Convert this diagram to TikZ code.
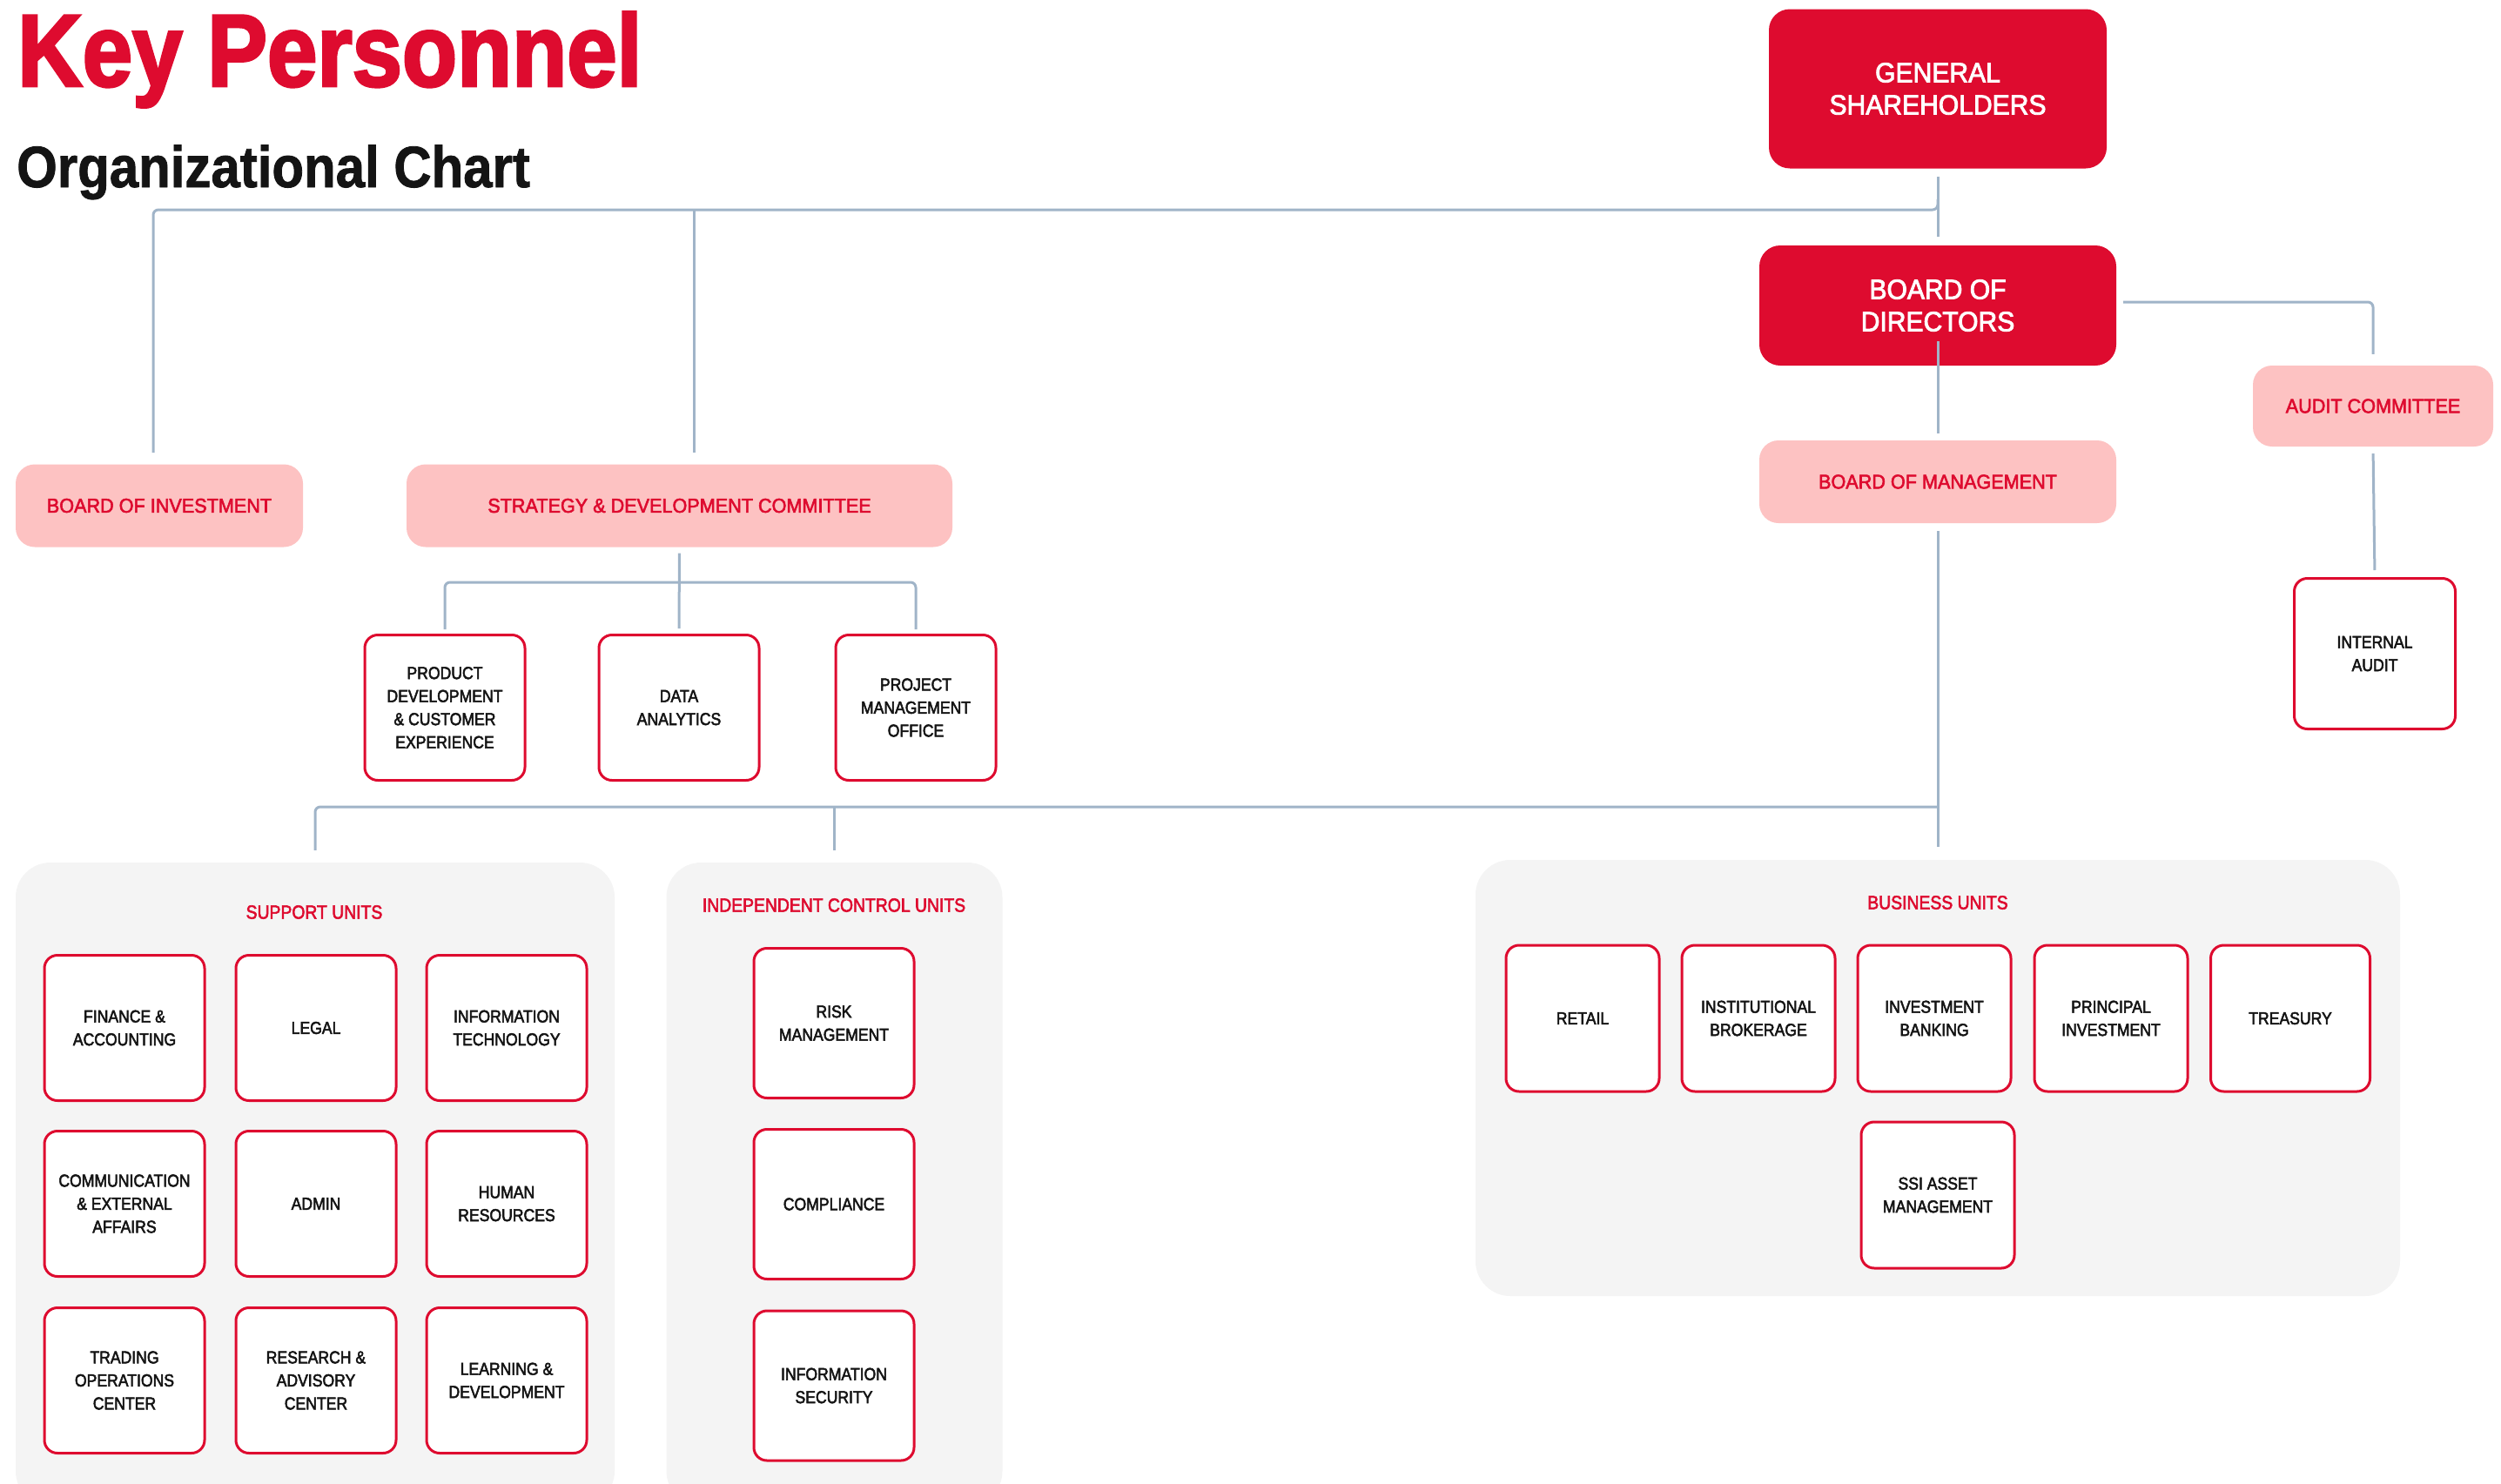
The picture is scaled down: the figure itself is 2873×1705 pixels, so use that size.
\documentclass[tikz,border=0pt]{standalone}
\usepackage{fontspec}
\setmainfont{Liberation Sans}
\newfontfamily\titlefont{Liberation Sans}[FakeStretch=0.875, FakeBold=2.5]
\newfontfamily\subtitlefont{Liberation Sans}[FakeStretch=0.895, FakeBold=1.2]
\newfontfamily\headfont{Liberation Sans}[FakeStretch=0.94, FakeBold=2.6]
\newfontfamily\unitfont{Liberation Sans}[FakeStretch=0.88, FakeBold=2.6]
\usetikzlibrary{calc}

\definecolor{brandred}{RGB}{222,11,47}
\definecolor{pinkfill}{RGB}{253,194,194}
\definecolor{linegray}{RGB}{160,180,200}
\definecolor{panelgray}{RGB}{244,244,244}
\definecolor{inktext}{RGB}{20,20,20}

\begin{document}
\begin{tikzpicture}[x=1pt, y=-1pt,
  redbox/.style={rectangle, rounded corners=24pt, fill=brandred, text=white,
    align=center, inner sep=0pt, font=\headfont\fontsize{32}{37}\selectfont},
  pinkbox/.style={rectangle, rounded corners=22pt, fill=pinkfill, text=brandred,
    align=center, inner sep=0pt, font=\headfont\fontsize{23}{28}\selectfont},
  unitbox/.style={rectangle, rounded corners=15pt, draw=brandred, line width=3pt,
    fill=white, text=inktext, align=center, inner sep=0pt,
    minimum width=184pt, minimum height=167pt,
    font=\unitfont\fontsize{20}{26.5}\selectfont},
  bizbox/.style={unitbox, minimum width=176pt, minimum height=168pt},
  panel/.style={rectangle, rounded corners=40pt, fill=panelgray, inner sep=0pt},
  grouptitle/.style={text=brandred, inner sep=0pt,
    font=\unitfont\fontsize{22}{26}\selectfont},
  conn/.style={draw=linegray, line width=3pt, rounded corners=6pt}
]
\useasboundingbox (0,0) rectangle (2873,1705);
\clip (0,0) rectangle (2873,1705);
\fill[white] (0,0) rectangle (2873,1705);

% Headings
\node[anchor=base west, inner sep=0pt, text=brandred,
  font=\titlefont\bfseries\fontsize{118}{120}\selectfont] (kp) at (20,99) {Key Personnel};
\node[anchor=base west, inner sep=0pt, text=inktext,
  font=\subtitlefont\bfseries\fontsize{67}{70}\selectfont] (oc) at (19,215) {Organizational Chart};

% Group panels
\node[panel, minimum width=688pt, minimum height=739pt] (sup) at (362,1360.5) {};
\node[panel, minimum width=386pt, minimum height=739pt] (icu) at (958.5,1360.5) {};
\node[panel, minimum width=1062pt, minimum height=501pt] (bup) at (2226,1238.5) {};

\node[grouptitle] (suptitle) at (361,1048) {SUPPORT UNITS};
\node[grouptitle] (icutitle) at (958,1040) {INDEPENDENT CONTROL UNITS};
\node[grouptitle] (buptitle) at (2226,1037) {BUSINESS UNITS};

% Governance bodies
\node[redbox, minimum width=388pt, minimum height=183pt] (gs) at (2226,102) {GENERAL\\SHAREHOLDERS};
\node[redbox, minimum width=410pt, minimum height=138pt] (bod) at (2226,351) {BOARD OF\\DIRECTORS};
\node[pinkbox, minimum width=410pt, minimum height=95pt] (bom) at (2226,553.5) {BOARD OF MANAGEMENT};
\node[pinkbox, minimum width=276pt, minimum height=93pt] (audit) at (2726,466.5) {AUDIT COMMITTEE};
\node[pinkbox, minimum width=330pt, minimum height=95pt] (boi) at (183,581) {BOARD OF INVESTMENT};
\node[pinkbox, minimum width=627pt, minimum height=95pt] (sdc) at (780.5,581) {STRATEGY \& DEVELOPMENT COMMITTEE};

\node[unitbox, minimum width=185pt, minimum height=173pt] (ia) at (2728,751) {INTERNAL\\AUDIT};

% Strategy & development units
\node[unitbox] (pd)  at (511,813)  {PRODUCT\\DEVELOPMENT\\\& CUSTOMER\\EXPERIENCE};
\node[unitbox] (da)  at (780,813)  {DATA\\ANALYTICS};
\node[unitbox] (pmo) at (1052,813) {PROJECT\\MANAGEMENT\\OFFICE};

% Support units
\node[unitbox] (fin)  at (143,1181) {FINANCE \&\\ACCOUNTING};
\node[unitbox] (leg)  at (363,1181) {LEGAL};
\node[unitbox] (it)   at (582,1181) {INFORMATION\\TECHNOLOGY};
\node[unitbox] (com)  at (143,1383) {COMMUNICATION\\\& EXTERNAL\\AFFAIRS};
\node[unitbox] (adm)  at (363,1383) {ADMIN};
\node[unitbox] (hr)   at (582,1383) {HUMAN\\RESOURCES};
\node[unitbox] (toc)  at (143,1586) {TRADING\\OPERATIONS\\CENTER};
\node[unitbox] (rac)  at (363,1586) {RESEARCH \&\\ADVISORY\\CENTER};
\node[unitbox] (ld)   at (582,1586) {LEARNING \&\\DEVELOPMENT};

% Independent control units
\node[unitbox, minimum height=172pt] (risk) at (958,1175.5) {RISK\\MANAGEMENT};
\node[unitbox, minimum height=172pt] (cmp)  at (958,1383.5) {COMPLIANCE};
\node[unitbox, minimum height=172pt] (isec) at (958,1592)   {INFORMATION\\SECURITY};

% Business units
\node[bizbox] (ret) at (1818,1170) {RETAIL};
\node[bizbox] (ib)  at (2020,1170) {INSTITUTIONAL\\BROKERAGE};
\node[bizbox] (inv) at (2222,1170) {INVESTMENT\\BANKING};
\node[bizbox] (pi)  at (2425,1170) {PRINCIPAL\\INVESTMENT};
\node[bizbox, minimum width=183pt] (tre) at (2631,1170) {TREASURY};
\node[bizbox] (ssi) at (2226,1373) {SSI ASSET\\MANAGEMENT};

% Junction points of the connector tree
\coordinate (jtop) at (2226,241);
\coordinate (boiin) at (176,520);
\coordinate (sdin) at (797,520);
\coordinate (jbot) at (2226,927);
\coordinate (jsd) at (780,669);

% Connectors
\draw[conn, shorten <=9pt, shorten >=10pt] (gs.south) -- (bod.north);
\draw[conn] (boiin) |- (jtop) -- ++(0,-12);
\draw[conn] (sdin) -- (sdin |- jtop);
\draw[conn, shorten >=13pt] (bod.east) ++(8,-4) -| (audit.north);
\draw[conn, shorten <=8pt, shorten >=8pt] (audit.south) -- (ia.north);
\draw[conn, shorten >=8pt] (bod.south) ++(0,-28) -- (bom.north);
\draw[conn, shorten <=9pt, shorten >=15pt] (bom.south) -- (bup.north);
\draw[conn, shorten >=14pt] (jbot) -| (sup.north);
\draw[conn, shorten >=14pt] (jbot -| icu.north) -- (icu.north);
\draw[conn, shorten <=7pt, shorten >=6pt] (sdc.south) -- (da.north);
\draw[conn, shorten >=5pt] (jsd) -| (pd.north);
\draw[conn, shorten >=5pt] (jsd) -| (pmo.north);
\end{tikzpicture}
\end{document}
